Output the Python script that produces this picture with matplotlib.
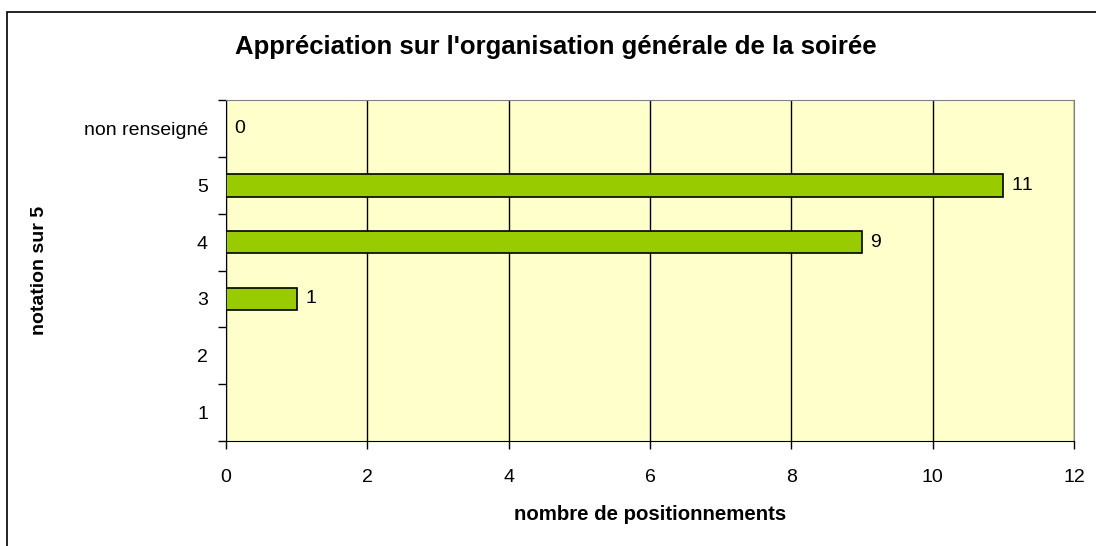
import matplotlib
matplotlib.use("Agg")
import matplotlib.pyplot as plt
from matplotlib.patches import Rectangle
import numpy as np

categories = ["1", "2", "3", "4", "5", "non renseigné"]
values = [None, None, 1, 9, 11, 0]
xticks = [0, 2, 4, 6, 8, 10, 12]

plt.rcParams['font.family'] = ['Liberation Sans', 'DejaVu Sans']
plt.rcParams['text.kerning_factor'] = 16

fig = plt.figure(figsize=(10.96, 5.46), dpi=100)
ax = fig.add_axes([226/1096, 1-441/546, (1074-226)/1096, (441-100)/546])
ax.set_facecolor("#FFFFCC")

y = np.arange(len(categories))
vals = [0 if v is None else v for v in values]
ax.barh(y, vals, height=0.4, color="#99CC00", edgecolor="black", linewidth=1.2, zorder=3)
for yi, v in zip(y, values):
    if v is not None:
        ax.text(v + 0.12, yi, str(v), va="center", ha="left", fontsize=14, zorder=4)

ax.set_xlim(0, 12)
ax.set_ylim(-0.5, len(categories) - 0.5)
ax.set_xticks(xticks)
ax.set_xticklabels([str(t) for t in xticks], fontsize=14)
ax.xaxis.grid(True, color="black", linewidth=1.0, zorder=1)
ax.set_axisbelow(True)

ax.set_yticks(np.arange(-0.5, len(categories), 1.0))
ax.set_yticklabels([])
ax.set_yticks(y, minor=True)
ax.set_yticklabels(categories, minor=True, fontsize=14)
ax.tick_params(axis="y", which="minor", length=0, pad=13)
ax.tick_params(axis="y", which="major", length=6, direction="out", width=1)
ax.tick_params(axis="x", length=6, direction="out", width=1, pad=14)

for s in ["top", "right"]:
    ax.spines[s].set_color("#808080")
for s in ["left", "bottom"]:
    ax.spines[s].set_color("black")

ax.set_xlabel("nombre de positionnements", fontsize=14.7, fontweight="bold")
ax.xaxis.set_label_coords(0.5, -(514-441)/341)
ax.set_ylabel("notation sur 5", fontsize=14, fontweight="bold")
ax.yaxis.set_label_coords(-(226-40)/848, 0.5)
ax.yaxis.label.set_va("center")
ax.xaxis.label.set_va("center")

fig.text(556/1096, 1-47/546, "Appréciation sur l'organisation générale de la soirée",
         ha="center", va="center", fontsize=18.5, fontweight="bold")

fig.patches.append(Rectangle((7/1096, -0.1), 2, 1.1 - 12/546, transform=fig.transFigure,
                             fill=False, edgecolor="black", linewidth=1.2))

fig.savefig("out.png", dpi=100)
